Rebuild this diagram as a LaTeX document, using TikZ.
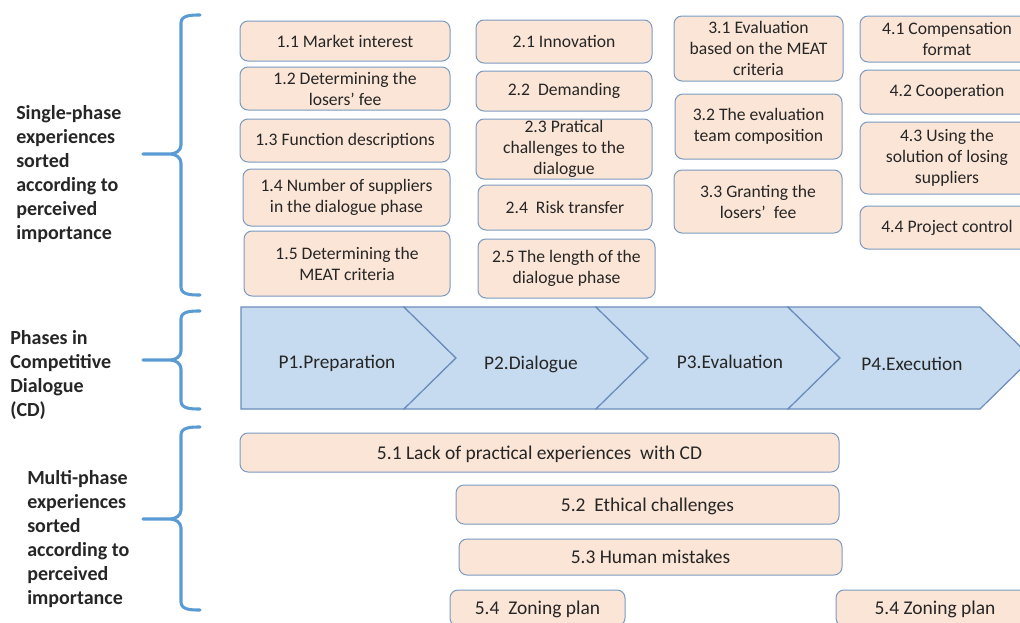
\documentclass[tikz,border=0pt]{standalone}
\usepackage{fontspec}
\setmainfont{Carlito}
\usepackage{xcolor}
\usepackage{tikz}
\usetikzlibrary{calc}

\definecolor{boxfill}{HTML}{FBE5D6}
\definecolor{boxline}{HTML}{7B9AC2}
\definecolor{phasefill}{HTML}{C7DBF0}
\definecolor{phaseline}{HTML}{6A8DBB}
\definecolor{braceblue}{HTML}{5B9BD5}
\definecolor{txt}{HTML}{262626}

\newcommand{\expfont}{\fontsize{13.2}{15.75}\selectfont}
\newcommand{\multifont}{\fontsize{14.6}{17}\selectfont}
\newcommand{\phasefont}{\fontsize{14.5}{17}\selectfont}
\newcommand{\sidefont}{\bfseries\fontsize{15}{18}\selectfont}

\begin{document}
\begin{tikzpicture}[
    x=0.75pt, y=-0.75pt,
    exp/.style={rectangle, draw=boxline, line width=0.75pt, fill=boxfill, rounded corners=6pt, align=center, text=txt, font=\expfont, inner xsep=2pt, inner ysep=0pt},
    multi/.style={exp, font=\multifont, text depth=0pt},
    boxsize/.style 2 args={minimum width=#1*0.75pt, minimum height=#2*0.75pt},
    phase/.style={fill=phasefill, draw=phaseline, line width=0.9pt, line join=miter},
    phaselabel/.style={text=txt, font=\phasefont, inner sep=0pt},
    side/.style={align=left, anchor=west, text=txt, font=\sidefont, inner sep=0pt},
    brace/.style={draw=braceblue, line width=2.3pt, line cap=round, line join=round}
]
    \useasboundingbox (0,0) rectangle (1020,622);

    % Side labels
    \node[side] (single) at (16,174) {Single-phase\\experiences\\sorted\\according to\\perceived\\importance};
    \node[side] (phases) at (10,374.5) {Phases in\\Competitive\\Dialogue\\(CD)};
    \node[side] (multiple) at (27,539) {Multi-phase\\experiences\\sorted\\according to\\perceived\\importance};

    % Braces
    \foreach \t/\m/\b in {15/154/295, 311/360/409, 427/519/610}
        \draw[brace] (200,\t) to[out=180,in=90] (181,\t+8) -- (181,\m-9) to[out=-90,in=0] (170,\m) -- (143,\m)
                     (170,\m) to[out=0,in=90] (181,\m+9) -- (181,\b-8) to[out=-90,in=180] (200,\b);

    % Phase 1
    \node[exp, boxsize={210}{40}] (m11) at (345,41) {1.1 Market interest};
    \node[exp, boxsize={210}{43}] (m12) at (345,88.5) {1.2 Determining the\\losers’ fee};
    \node[exp, boxsize={210}{43}] (m13) at (345,140.5) {1.3 Function descriptions};
    \node[exp, boxsize={207}{57}] (m14) at (346.5,197.5) {1.4 Number of suppliers\\in the dialogue phase};
    \node[exp, boxsize={206}{65}] (m15) at (347,263.5) {1.5 Determining the\\MEAT criteria};

    % Phase 2
    \node[exp, boxsize={176}{43}] (m21) at (564,41.5) {2.1 Innovation};
    \node[exp, boxsize={176}{40}] (m22) at (564,91) {2.2~ Demanding};
    \node[exp, boxsize={176}{60}] (m23) at (564,149) {2.3 Pratical\\challenges to the\\dialogue};
    \node[exp, boxsize={174}{45}] (m24) at (565,207.5) {2.4~ Risk transfer};
    \node[exp, boxsize={177}{59}] (m25) at (566.5,268.5) {2.5 The length of the\\dialogue phase};

    % Phase 3
    \node[exp, boxsize={169}{65}] (m31) at (758.5,48.5) {3.1 Evaluation\\based on the MEAT\\criteria};
    \node[exp, boxsize={167}{65}] (m32) at (758.5,126.5) {3.2 The evaluation\\team composition};
    \node[exp, boxsize={168}{63}] (m33) at (758,201.5) {3.3 Granting the\\losers’~ fee};

    % Phase 4
    \node[exp, boxsize={174}{46}] (m41) at (947,39) {4.1 Compensation\\format};
    \node[exp, boxsize={174}{44}] (m42) at (947,92) {4.2 Cooperation};
    \node[exp, boxsize={174}{72}] (m43) at (947,158) {4.3 Using the\\solution of losing\\suppliers};
    \node[exp, boxsize={174}{43}] (m44) at (947,227.5) {4.4 Project control};

    % Chevrons
    \draw[phase] (241,307) -- (404,307) -- (456,358) -- (404,409) -- (241,409) -- cycle;
    \foreach \x in {404,596,788}
        \draw[phase] (\x,307) -- ++(192,0) -- ++(52,51) -- ++(-52,51) -- ++(-192,0) -- ++(52,-51) -- cycle;
    \node[phaselabel] (p1) at (337,363) {P1.Preparation};
    \node[phaselabel] (p2) at (531,364) {P2.Dialogue};
    \node[phaselabel] (p3) at (730,362) {P3.Evaluation};
    \node[phaselabel] (p4) at (912,364) {P4.Execution};

    % Multi-phase
    \node[multi, boxsize={599}{39}] (m51) at (539.5,452.5) {5.1 Lack of practical experiences~ with CD};
    \node[multi, boxsize={383}{39}] (m52) at (647.5,504.5) {5.2~ Ethical challenges};
    \node[multi, boxsize={383}{36}] (m53) at (650.5,557) {5.3 Human mistakes};
    \node[multi, boxsize={175}{36}] (m54) at (537.5,608) {5.4~ Zoning plan};
    \node[multi, boxsize={198}{36}] (m55) at (935,608) {5.4 Zoning plan};

\end{tikzpicture}
\end{document}
